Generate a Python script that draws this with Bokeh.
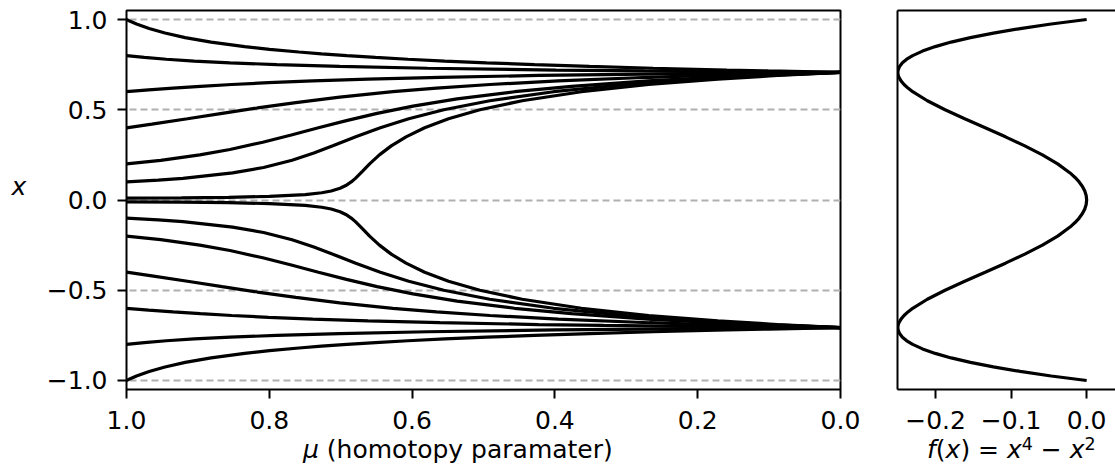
from bokeh.plotting import figure
from bokeh.layouts import row, column
from bokeh.models import Range1d, FixedTicker, CustomJSTickFormatter, LinearAxis, Div
from bokeh.embed import file_html
from bokeh.resources import INLINE

# ---------------- data ----------------
mu_ticks = [1.0, 0.8, 0.6, 0.4, 0.2, 0.0]
x_ticks = [-1.0, -0.5, 0.0, 0.5, 1.0]
f_ticks = [-0.2, -0.1, 0.0]

# homotopy paths, start x = 1.0, 0.8, 0.6, 0.4, 0.2, 0.1, 0.01 and their mirrors
mu_1 = [1.0, 0.9948, 0.9860, 0.9683, 0.9461, 0.9178, 0.8815, 0.8345, 0.7997, 0.7585, 0.7269, 0.6914, 0.6513, 0.6059, 0.5544, 0.4957, 0.4286, 0.3515, 0.2624, 0.1591, 0.1012, 0.0515, 0.0]
x_1 = [1.0, 0.99, 0.975, 0.95, 0.925, 0.90, 0.875, 0.85, 0.835, 0.82, 0.81, 0.80, 0.79, 0.78, 0.77, 0.76, 0.75, 0.74, 0.73, 0.72, 0.715, 0.711, 0.7071]

mu_2 = [1.0, 0.9751, 0.9442, 0.9051, 0.8550, 0.7895, 0.7013, 0.5785, 0.3985, 0.2741, 0.2153, 0.15, 0.0]
x_2 = [0.8, 0.79, 0.78, 0.77, 0.76, 0.75, 0.74, 0.73, 0.72, 0.715, 0.713, 0.711, 0.7071]

mu_3 = [1.0, 0.9690, 0.9348, 0.8965, 0.8526, 0.8012, 0.7392, 0.6618, 0.5611, 0.4229, 0.3319, 0.2188, 0.1061, 0.0]
x_3 = [0.6, 0.61, 0.62, 0.63, 0.64, 0.65, 0.66, 0.67, 0.68, 0.69, 0.695, 0.70, 0.704, 0.7071]

mu_4 = [1.0, 0.9645, 0.9146, 0.8661, 0.8165, 0.7628, 0.7013, 0.6269, 0.5658, 0.4909, 0.3954, 0.2675, 0.1853, 0.0854, 0.0]
x_4 = [0.4, 0.42, 0.45, 0.48, 0.51, 0.54, 0.57, 0.60, 0.62, 0.64, 0.66, 0.68, 0.69, 0.70, 0.7071]

mu_5 = [1.0, 0.9521, 0.8974, 0.8551, 0.8092, 0.7692, 0.7312, 0.6920, 0.6490, 0.5988, 0.5370, 0.4565, 0.3766, 0.2699, 0.1756, 0.0870, 0.0]
x_5 = [0.2, 0.22, 0.25, 0.28, 0.32, 0.36, 0.40, 0.44, 0.48, 0.52, 0.56, 0.60, 0.63, 0.66, 0.68, 0.695, 0.7071]

mu_6 = [1.0, 0.9555, 0.9210, 0.8514, 0.8080, 0.7681, 0.7376, 0.7110, 0.6789, 0.6445, 0.6047, 0.5556, 0.4912, 0.4019, 0.3000, 0.1937, 0.1006, 0.0]
x_6 = [0.1, 0.11, 0.12, 0.15, 0.18, 0.22, 0.26, 0.30, 0.35, 0.40, 0.45, 0.50, 0.55, 0.60, 0.64, 0.67, 0.69, 0.7071]

mu_7 = [1.0, 0.9231, 0.8571, 0.7999, 0.7497, 0.7266, 0.7133, 0.7009, 0.6929, 0.6853, 0.6794, 0.6693, 0.6595, 0.6458, 0.6292, 0.6085, 0.5824, 0.5490, 0.5051, 0.4459, 0.3629, 0.2686, 0.1718, 0.0884, 0.0]
x_7 = [0.01, 0.012, 0.015, 0.02, 0.03, 0.04, 0.05, 0.065, 0.08, 0.10, 0.12, 0.16, 0.20, 0.25, 0.30, 0.35, 0.40, 0.45, 0.50, 0.55, 0.60, 0.64, 0.67, 0.69, 0.7071]

mu_8 = [1.0, 0.9231, 0.8571, 0.7999, 0.7497, 0.7266, 0.7133, 0.7009, 0.6929, 0.6853, 0.6794, 0.6693, 0.6595, 0.6458, 0.6292, 0.6085, 0.5824, 0.5490, 0.5051, 0.4459, 0.3629, 0.2686, 0.1718, 0.0884, 0.0]
x_8 = [-0.01, -0.012, -0.015, -0.02, -0.03, -0.04, -0.05, -0.065, -0.08, -0.10, -0.12, -0.16, -0.20, -0.25, -0.30, -0.35, -0.40, -0.45, -0.50, -0.55, -0.60, -0.64, -0.67, -0.69, -0.7071]

mu_9 = [1.0, 0.9555, 0.9210, 0.8514, 0.8080, 0.7681, 0.7376, 0.7110, 0.6789, 0.6445, 0.6047, 0.5556, 0.4912, 0.4019, 0.3000, 0.1937, 0.1006, 0.0]
x_9 = [-0.1, -0.11, -0.12, -0.15, -0.18, -0.22, -0.26, -0.30, -0.35, -0.40, -0.45, -0.50, -0.55, -0.60, -0.64, -0.67, -0.69, -0.7071]

mu_10 = [1.0, 0.9521, 0.8974, 0.8551, 0.8092, 0.7692, 0.7312, 0.6920, 0.6490, 0.5988, 0.5370, 0.4565, 0.3766, 0.2699, 0.1756, 0.0870, 0.0]
x_10 = [-0.2, -0.22, -0.25, -0.28, -0.32, -0.36, -0.40, -0.44, -0.48, -0.52, -0.56, -0.60, -0.63, -0.66, -0.68, -0.695, -0.7071]

mu_11 = [1.0, 0.9645, 0.9146, 0.8661, 0.8165, 0.7628, 0.7013, 0.6269, 0.5658, 0.4909, 0.3954, 0.2675, 0.1853, 0.0854, 0.0]
x_11 = [-0.4, -0.42, -0.45, -0.48, -0.51, -0.54, -0.57, -0.60, -0.62, -0.64, -0.66, -0.68, -0.69, -0.70, -0.7071]

mu_12 = [1.0, 0.9690, 0.9348, 0.8965, 0.8526, 0.8012, 0.7392, 0.6618, 0.5611, 0.4229, 0.3319, 0.2188, 0.1061, 0.0]
x_12 = [-0.6, -0.61, -0.62, -0.63, -0.64, -0.65, -0.66, -0.67, -0.68, -0.69, -0.695, -0.70, -0.704, -0.7071]

mu_13 = [1.0, 0.9751, 0.9442, 0.9051, 0.8550, 0.7895, 0.7013, 0.5785, 0.3985, 0.2741, 0.2153, 0.15, 0.0]
x_13 = [-0.8, -0.79, -0.78, -0.77, -0.76, -0.75, -0.74, -0.73, -0.72, -0.715, -0.713, -0.711, -0.7071]

mu_14 = [1.0, 0.9948, 0.9860, 0.9683, 0.9461, 0.9178, 0.8815, 0.8345, 0.7997, 0.7585, 0.7269, 0.6914, 0.6513, 0.6059, 0.5544, 0.4957, 0.4286, 0.3515, 0.2624, 0.1591, 0.1012, 0.0515, 0.0]
x_14 = [-1.0, -0.99, -0.975, -0.95, -0.925, -0.90, -0.875, -0.85, -0.835, -0.82, -0.81, -0.80, -0.79, -0.78, -0.77, -0.76, -0.75, -0.74, -0.73, -0.72, -0.715, -0.711, -0.7071]

# right panel: f(x) = x^4 - x^2 drawn sideways
fx_x = [-1.0, -0.975, -0.95, -0.925, -0.9, -0.875, -0.85, -0.825, -0.8, -0.78, -0.76, -0.74, -0.72,
        -0.7071, -0.70, -0.69, -0.68, -0.66, -0.64, -0.62, -0.6, -0.55, -0.5, -0.45, -0.4, -0.35,
        -0.3, -0.25, -0.2, -0.15, -0.125, -0.1, -0.075, -0.05, -0.025,
        0.0, 0.025, 0.05, 0.075, 0.1, 0.125, 0.15, 0.2, 0.25, 0.3, 0.35, 0.4, 0.45, 0.5, 0.55, 0.6,
        0.62, 0.64, 0.66, 0.68, 0.69, 0.70, 0.7071, 0.72, 0.74, 0.76, 0.78, 0.8, 0.825, 0.85, 0.875,
        0.9, 0.925, 0.95, 0.975, 1.0]
fx_f = [0.0, -0.046937, -0.08799, -0.123531, -0.1539, -0.179443, -0.20049, -0.217375, -0.2304,
        -0.238249, -0.243978, -0.247734, -0.249661, -0.25, -0.2499, -0.249429, -0.248586, -0.245853,
        -0.241828, -0.236637, -0.2304, -0.21099, -0.1875, -0.16149, -0.1344, -0.10749, -0.0819,
        -0.05859, -0.0384, -0.02199, -0.015381, -0.0099, -0.005593, -0.00249, -0.000624,
        0.0, -0.000624, -0.00249, -0.005593, -0.0099, -0.015381, -0.02199, -0.0384, -0.05859, -0.0819,
        -0.10749, -0.1344, -0.16149, -0.1875, -0.21099, -0.2304, -0.236637, -0.241828, -0.245853,
        -0.248586, -0.249429, -0.2499, -0.25, -0.249661, -0.247734, -0.243978, -0.238249, -0.2304,
        -0.217375, -0.20049, -0.179443, -0.1539, -0.123531, -0.08799, -0.046937, 0.0]

y_label = "x"
mu_label = "(homotopy paramater)"

# ---------------- styling ----------------
FONT = "DejaVu Sans"
FS = "25px"
PLOT_H = 440
YLAB_W = 36
LW = 3.2

fmt = CustomJSTickFormatter(code="return tick.toFixed(1).replace('-', '\u2212');")

yr = Range1d(-1.05, 1.05)

p1 = figure(width=870 - YLAB_W, height=PLOT_H, x_range=Range1d(1.0, 0.0), y_range=yr,
            output_backend="svg", toolbar_location=None,
            min_border_left=126 - YLAB_W, min_border_right=30, min_border_top=10,
            min_border_bottom=PLOT_H - 389)
p1.background_fill_color = "white"
p1.border_fill_color = "white"
p1.outline_line_color = "black"
p1.outline_line_width = 2
p1.xgrid.visible = False
p1.ygrid.grid_line_color = "#b0b0b0"
p1.ygrid.grid_line_dash = "7 4"
p1.ygrid.grid_line_width = 1.8

p1.xaxis.ticker = FixedTicker(ticks=mu_ticks)
p1.yaxis.ticker = FixedTicker(ticks=x_ticks)
for ax in (p1.xaxis[0], p1.yaxis[0]):
    ax.formatter = fmt
    ax.axis_line_color = None
    ax.major_tick_line_color = "black"
    ax.major_tick_line_width = 2
    ax.major_tick_out = 9
    ax.major_tick_in = 0
    ax.minor_tick_line_color = None
    ax.major_label_text_font = FONT
    ax.major_label_text_font_size = FS
    ax.major_label_text_color = "black"
p1.xaxis.major_label_standoff = 12
p1.yaxis.major_label_standoff = 10

curves = [(mu_1, x_1), (mu_2, x_2), (mu_3, x_3), (mu_4, x_4), (mu_5, x_5), (mu_6, x_6), (mu_7, x_7),
          (mu_8, x_8), (mu_9, x_9), (mu_10, x_10), (mu_11, x_11), (mu_12, x_12), (mu_13, x_13), (mu_14, x_14)]
for m, xv in curves:
    p1.line(m, xv, line_color="black", line_width=LW)

# ---------------- right panel ----------------
p2 = figure(width=245, height=PLOT_H, x_range=Range1d(-0.2505, 0.0382), y_range=yr,
            output_backend="svg", toolbar_location=None,
            min_border_left=27, min_border_right=0, min_border_top=10,
            min_border_bottom=PLOT_H - 389)
p2.background_fill_color = "white"
p2.border_fill_color = "white"
p2.outline_line_color = None
p2.grid.visible = False

p2.xaxis.ticker = FixedTicker(ticks=f_ticks)
p2.xaxis.formatter = fmt
xa = p2.xaxis[0]
xa.axis_line_color = "black"
xa.axis_line_width = 2
xa.major_tick_line_color = "black"
xa.major_tick_line_width = 2
xa.major_tick_out = 9
xa.major_tick_in = 0
xa.minor_tick_line_color = None
xa.major_label_text_font = FONT
xa.major_label_text_font_size = FS
xa.major_label_text_color = "black"
xa.major_label_standoff = 12

ya = p2.yaxis[0]
ya.ticker = FixedTicker(ticks=[])
ya.axis_line_color = "black"
ya.axis_line_width = 2
ya.major_tick_out = 0
ya.major_tick_in = 0
ya.minor_tick_line_color = None
ya.major_label_standoff = 0

top = LinearAxis(ticker=FixedTicker(ticks=[]), axis_line_color="black", axis_line_width=2,
                 major_tick_out=0, major_tick_in=0, minor_tick_line_color=None,
                 major_label_standoff=0)
p2.add_layout(top, "above")

p2.line(fx_f, fx_x, line_color="black", line_width=LW)

# ---------------- axis titles as HTML text ----------------
txt = "font-family:'DejaVu Sans';font-size:25px;color:black;line-height:22px;white-space:nowrap;position:absolute;"
div_y = Div(width=YLAB_W, height=PLOT_H, margin=0,
            text=f'<div style="position:relative;width:{YLAB_W}px;height:{PLOT_H}px;">'
                 f'<span style="{txt}left:1px;width:{YLAB_W}px;text-align:center;top:176px;font-style:italic;">{y_label}</span></div>')

sup = '<span style="font-size:70%;position:relative;top:-0.45em;">{}</span>'
f_label = ('<i>f</i>(<i>x</i>) = <i>x</i>' + sup.format("4") + ' \u2212 <i>x</i>' + sup.format("2"))
div_x = Div(width=1115, height=465 - PLOT_H, margin=0,
            text=f'<div style="position:relative;width:1115px;height:{465 - PLOT_H}px;">'
                 f'<span style="{txt}left:303px;top:-1px;"><i>\u03bc</i> {mu_label}</span>'
                 f'<span style="{txt}left:927px;top:-1px;">{f_label}</span></div>')

layout = column(row(div_y, p1, p2, spacing=0), div_x, spacing=0)
open("out.html", "w").write(file_html(layout, INLINE))
